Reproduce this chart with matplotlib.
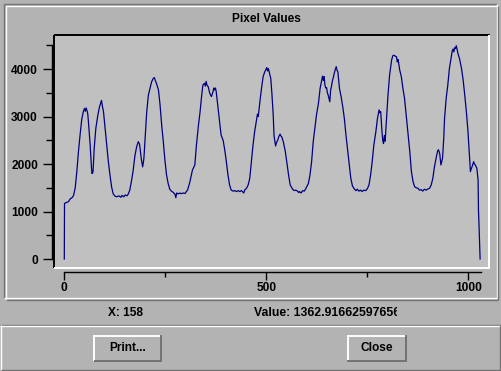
import matplotlib
matplotlib.use("Agg")
import matplotlib.pyplot as plt
from matplotlib.lines import Line2D
from matplotlib.patches import Rectangle
from matplotlib.ticker import MultipleLocator
from matplotlib.transforms import Bbox

W, H = 502, 371
DPI = 100

# pixel index / pixel value
pix_x = [0, 0.5, 5, 10, 15, 19, 23, 27, 31, 35, 39, 43, 47, 50, 52, 54, 56, 58, 60, 64,
         67, 68.5, 71, 74, 78, 83, 87, 92, 94, 97, 101, 105, 109, 113, 117, 121, 126, 130,
         135, 140, 143, 147, 151, 155, 158, 162, 166, 170, 175, 179, 183, 186, 187, 191,
         194, 197, 200, 204, 208, 212, 216, 220, 223, 225, 228, 233, 237, 241, 245, 249,
         253, 257, 261, 265, 270, 274, 276, 278, 282, 286, 290, 294, 299, 302, 305, 311,
         317, 323, 327, 332, 336, 340, 343, 347, 349, 351, 353, 356, 360, 364, 366, 368,
         370, 372, 374, 376, 380, 384, 388, 393, 397, 401, 405, 409, 413, 418, 422, 426,
         430, 434, 438, 442, 444, 447, 451, 455, 459, 463, 467, 471, 475, 478, 480, 484,
         488, 492, 496, 499, 501, 503, 505, 507, 511, 514, 517, 519, 521, 523, 525, 528,
         531, 534, 536, 538, 542, 547, 551, 555, 559, 565, 569, 573, 577, 580, 582, 586,
         590, 594, 598, 604, 608, 612, 616, 620, 624, 629, 633, 637, 639, 641, 643, 645,
         647, 649, 651, 653, 655, 657, 659, 661, 664, 666, 668, 671, 673, 675, 677, 681,
         685, 689, 693, 697, 701, 705, 709, 713, 718, 722, 725, 729, 733, 737, 741, 746,
         750, 754, 758, 762, 766, 771, 775, 779, 781, 783, 786, 788, 790, 792, 794, 797,
         801, 805, 810, 813, 816, 819, 822, 824, 826, 830, 834, 838, 842, 846, 851, 855,
         859, 863, 867, 871, 875, 879, 883, 887, 891, 895, 899, 904, 908, 912, 916, 920,
         924, 926, 929, 931, 932, 934, 936, 939, 941, 945, 949, 953, 957, 960, 962, 964,
         966, 968, 970, 972, 974, 978, 983, 987, 991, 995, 999, 1002, 1005, 1007, 1009,
         1013, 1015, 1017, 1021, 1024, 1025, 1026, 1029]
pix_val = [0, 1170, 1190, 1205, 1270, 1290, 1340, 1500, 1840, 2260, 2610, 2930, 3100, 3170,
           3110, 3180, 3130, 3060, 2860, 2400, 1950, 1800, 1830, 2330, 2750, 3030, 3200,
           3340, 3230, 3100, 2750, 2400, 2050, 1770, 1520, 1370, 1320, 1310, 1330, 1300,
           1340, 1310, 1350, 1330, 1363, 1450, 1630, 1840, 2190, 2360, 2470, 2420, 2360,
           2080, 1940, 2120, 2540, 3100, 3450, 3590, 3730, 3800, 3820, 3760, 3700, 3560,
           3240, 2820, 2470, 2080, 1770, 1590, 1470, 1430, 1400, 1360, 1290, 1390, 1370,
           1390, 1375, 1390, 1380, 1420, 1450, 1630, 1870, 1980, 2400, 2820, 3100, 3450,
           3660, 3700, 3640, 3740, 3660, 3630, 3490, 3420, 3470, 3520, 3600, 3560, 3600,
           3520, 3210, 2890, 2610, 2500, 2300, 2050, 1770, 1560, 1450, 1430, 1440, 1420,
           1440, 1420, 1440, 1410, 1390, 1460, 1490, 1560, 1700, 2050, 2400, 2680, 2890,
           3050, 3000, 3310, 3590, 3840, 3940, 3990, 4030, 3960, 4010, 3940, 3800, 3450,
           3030, 2600, 2480, 2380, 2450, 2500, 2580, 2630, 2590, 2575, 2470, 2260, 2010,
           1770, 1560, 1470, 1440, 1450, 1430, 1400, 1420, 1390, 1440, 1430, 1490, 1590,
           1770, 2050, 2470, 2750, 3030, 3280, 3590, 3770, 3850, 3760, 3840, 3660, 3600,
           3610, 3500, 3450, 3380, 3310, 3550, 3630, 3770, 3830, 3910, 4000, 4050, 3970,
           3940, 3590, 3420, 3210, 2960, 2610, 2300, 2010, 1700, 1540, 1470, 1440, 1470,
           1430, 1450, 1420, 1450, 1440, 1480, 1560, 1770, 2050, 2400, 2680, 2960, 3140,
           3080, 3100, 2700, 2500, 2430, 2600, 2480, 2890, 3450, 3870, 4190, 4280, 4290,
           4270, 4260, 4150, 4200, 3980, 3840, 3590, 3380, 3030, 2610, 2260, 1840, 1630,
           1520, 1500, 1490, 1450, 1460, 1430, 1470, 1450, 1470, 1490, 1560, 1700, 1940,
           2120, 2280, 2300, 2220, 2050, 1980, 2050, 2120, 2540, 2960, 3380, 3660, 4010,
           4220, 4380, 4420, 4360, 4450, 4430, 4490, 4420, 4330, 4220, 4010, 3770, 3450,
           3100, 2680, 2260, 1840, 1900, 1940, 2050, 2000, 1980, 1910, 1660, 1000, 790, 0]

title = "Pixel Values"
x_ticks = [0, 500, 1000]
y_ticks = [0, 1000, 2000, 3000, 4000]
status_x = "X: 158"
status_value = "Value: 1362.91662597656"
button_labels = ["Print...", "Close"]

BG = "#b3b3b3"
PLOT_BG = "#c0c0c0"
DARK = "#737373"
FONT = "Liberation Sans"


def fx(x):
    return x / W


def fy(y):
    return 1 - y / H


def hline(fig, x0, x1, y, color, lw=0.8):
    fig.add_artist(Line2D([fx(x0), fx(x1)], [fy(y), fy(y)], color=color, lw=lw,
                          transform=fig.transFigure, solid_capstyle="butt"))


def vline(fig, x, y0, y1, color, lw=0.8):
    fig.add_artist(Line2D([fx(x), fx(x)], [fy(y0), fy(y1)], color=color, lw=lw,
                          transform=fig.transFigure, solid_capstyle="butt"))


def bevel(fig, x0, y0, x1, y1, light, dark, lw=0.8):
    hline(fig, x0, x1, y0, light, lw)
    vline(fig, x0, y0, y1, light, lw)
    hline(fig, x0, x1, y1, dark, lw)
    vline(fig, x1, y0, y1, dark, lw)


fig = plt.figure(figsize=(W / DPI, H / DPI), dpi=DPI)
fig.patch.set_facecolor(BG)

# ---- plot area ----
ax = fig.add_axes([fx(54), fy(267), (489 - 54) / W, (267 - 35) / H])
ax.set_facecolor(PLOT_BG)
ax.plot(pix_x, pix_val, color="#000080", lw=0.9)
ax.set_xlim(-25.5, 1051)
ax.set_ylim(-168, 4716)

for s in ("top", "right"):
    ax.spines[s].set_visible(False)
ax.spines["left"].set_position(("outward", 1.5))
ax.spines["left"].set_bounds(0, 4500)
ax.spines["bottom"].set_position(("outward", 3.6))
ax.spines["bottom"].set_bounds(0, 1030)
for s in ("left", "bottom"):
    ax.spines[s].set_linewidth(1.0)
    ax.spines[s].set_color("black")

ax.set_xticks(x_ticks)
ax.set_yticks(y_ticks)
ax.xaxis.set_minor_locator(MultipleLocator(250))
ax.yaxis.set_minor_locator(MultipleLocator(500))
ax.tick_params(axis="y", which="major", length=6.5, width=1.0, pad=3.5)
ax.tick_params(axis="y", which="minor", length=4.3, width=1.0)
ax.tick_params(axis="x", which="major", length=5.8, width=1.0, pad=1.5)
ax.tick_params(axis="x", which="minor", length=3.6, width=1.0)
for lab in ax.get_xticklabels() + ax.get_yticklabels():
    lab.set_fontfamily(FONT)
    lab.set_fontweight("bold")
    lab.set_fontsize(8.6)

# sunken frame round the plot
hline(fig, 54, 490, 35, "black", 1.4)
vline(fig, 54, 35, 268, "black", 1.4)
hline(fig, 54, 490, 267.5, "white", 1.4)
vline(fig, 489.5, 35, 268, "white", 1.4)

# ---- dialog chrome ----
bevel(fig, 4, 4, 497, 298, DARK, "white", 1.0)
bevel(fig, 5.5, 5.5, 498.5, 299.5, "white", DARK, 1.0)
hline(fig, 0, W, 324.5, DARK, 1.0)
hline(fig, 0, W, 325.8, "white", 1.0)
vline(fig, 1, 325, 370, "white", 1.0)
hline(fig, 1, 501, 369.5, DARK, 1.0)
vline(fig, 500.5, 325, 370, DARK, 1.0)

fig.text(fx(266), fy(19), title, ha="center", va="center",
         fontfamily=FONT, fontweight="bold", fontsize=8.6)

fig.text(fx(126), fy(313.5), status_x, ha="center", va="center",
         fontfamily=FONT, fontweight="bold", fontsize=8.6)
tv = fig.text(fx(254), fy(313.5), status_value, ha="left", va="center",
              fontfamily=FONT, fontweight="bold", fontsize=8.8)
tv.set_clip_box(Bbox([[0, 0], [397, H]]))
tv.set_clip_on(True)

# buttons
buttons = [(94, 335, 162, 361), (347, 335, 407, 361)]
for (x0, y0, x1, y1), label in zip(buttons, button_labels):
    fig.add_artist(Rectangle((fx(x0), fy(y1)), (x1 - x0) / W, (y1 - y0) / H,
                             transform=fig.transFigure, facecolor=BG, edgecolor="none"))
    hline(fig, x0, x1, y0 + 0.5, "white", 1.4)
    vline(fig, x0 + 0.5, y0, y1, "white", 1.4)
    hline(fig, x0, x1, y1 - 0.5, DARK, 1.4)
    vline(fig, x1 - 0.5, y0, y1, DARK, 1.4)
    fig.text(fx((x0 + x1) / 2), fy((y0 + y1) / 2), label, ha="center", va="center",
             fontfamily=FONT, fontweight="bold", fontsize=8.6)

fig.savefig("out.png", dpi=DPI, facecolor=BG)
